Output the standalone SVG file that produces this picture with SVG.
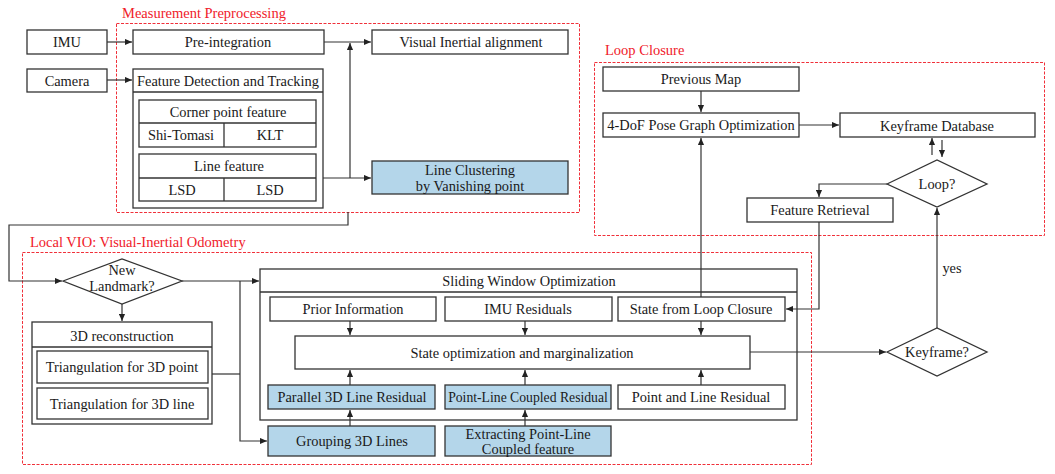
<svg xmlns="http://www.w3.org/2000/svg" width="1055" height="474" viewBox="0 0 1055 474">
<defs>
<marker id="ah" viewBox="0 0 8 8" refX="8" refY="4" markerWidth="7" markerHeight="7" markerUnits="userSpaceOnUse" orient="auto">
<path d="M0,0.5 L8,4 L0,7.5 Z" fill="#222"/>
</marker>
<style>
.b{fill:#fff;stroke:#333;stroke-width:1.3}
.bl{fill:#b4d6ea;stroke:#333;stroke-width:1.3}
.ln{fill:none;stroke:#333;stroke-width:1.3}
.t{font-family:"Liberation Serif","Times New Roman",serif;font-size:14.4px;fill:#1a1a1a;text-anchor:middle;dominant-baseline:central}
.rt{font-family:"Liberation Serif","Times New Roman",serif;font-size:14.5px;fill:#f0202a}
.rb{fill:none;stroke:#f0303a;stroke-width:1;stroke-dasharray:3 1.5}
.c{fill:none;stroke:#333;stroke-width:1.2}
</style>
</defs>
<rect width="1055" height="474" fill="#fff"/>

<!-- region frames -->
<g id="regions">
<rect class="rb" x="116.5" y="23.5" width="463" height="189"/>
<text class="rt" x="122" y="18">Measurement Preprocessing</text>
<rect class="rb" x="594.5" y="62.5" width="450" height="173"/>
<text class="rt" x="605" y="55">Loop Closure</text>
<rect class="rb" x="22.5" y="252.5" width="789" height="212"/>
<text class="rt" x="30" y="247">Local VIO: Visual-Inertial Odometry</text>
</g>

<!-- nodes -->
<g id="imu"><rect class="b" x="27" y="30" width="80" height="24"/><text class="t" x="67" y="42">IMU</text></g>
<g id="camera"><rect class="b" x="27" y="69" width="80" height="23"/><text class="t" x="67" y="80.5">Camera</text></g>
<g id="preint"><rect class="b" x="133" y="30" width="191" height="24"/><text class="t" x="228" y="42">Pre-integration</text></g>
<g id="fdt">
<rect class="b" x="133" y="69" width="190" height="139"/>
<line class="ln" x1="133" y1="92" x2="323" y2="92"/>
<text class="t" x="228" y="80.5">Feature Detection and Tracking</text>
<rect class="b" x="139" y="100" width="177" height="47"/>
<line class="ln" x1="139" y1="123" x2="316" y2="123"/>
<line class="ln" x1="224" y1="123" x2="224" y2="147"/>
<text class="t" x="228" y="111.5">Corner point feature</text>
<text class="t" x="181" y="135">Shi-Tomasi</text>
<text class="t" x="270" y="135">KLT</text>
<rect class="b" x="139" y="154" width="177" height="47"/>
<line class="ln" x1="139" y1="178" x2="316" y2="178"/>
<line class="ln" x1="224" y1="178" x2="224" y2="201"/>
<text class="t" x="229" y="166">Line feature</text>
<text class="t" x="182" y="190">LSD</text>
<text class="t" x="270" y="190">LSD</text>
</g>
<g id="via"><rect class="b" x="372" y="30" width="196" height="24"/><text class="t" x="471" y="42">Visual Inertial alignment</text></g>
<g id="lcvp"><rect class="bl" x="372" y="161" width="196" height="33"/><text class="t" x="470" y="170">Line Clustering</text><text class="t" x="470" y="185.5">by Vanishing point</text></g>

<g id="prevmap"><rect class="b" x="603" y="67" width="196" height="24"/><text class="t" x="701" y="78.5">Previous Map</text></g>
<g id="posegraph"><rect class="b" x="603" y="113" width="196" height="24"/><text class="t" x="701" y="124.5">4-DoF Pose Graph Optimization</text></g>
<g id="kfdb"><rect class="b" x="840" y="113" width="195" height="24"/><text class="t" x="937" y="125.5">Keyframe Database</text></g>
<g id="loop"><polygon class="b" points="887,184 937,160 987,184 937,207"/><text class="t" x="937" y="184">Loop?</text></g>
<g id="fretr"><rect class="b" x="747" y="198" width="146" height="24"/><text class="t" x="820" y="210">Feature Retrieval</text></g>

<g id="newlm"><polygon class="b" points="63,281 122,259 182,281 122,304"/><text class="t" x="122" y="270">New</text><text class="t" x="122" y="286">Landmark?</text></g>
<g id="recon3d">
<rect class="b" x="32" y="322" width="180" height="102"/>
<line class="ln" x1="32" y1="347" x2="212" y2="347"/>
<text class="t" x="122" y="336">3D reconstruction</text>
<rect class="b" x="37" y="351" width="171" height="32"/>
<text class="t" x="122" y="367">Triangulation for 3D point</text>
<rect class="b" x="37" y="388" width="171" height="31"/>
<text class="t" x="122" y="404">Triangulation for 3D line</text>
</g>

<g id="swo">
<rect class="b" x="260" y="269" width="537" height="151"/>
<line class="ln" x1="260" y1="292" x2="797" y2="292"/>
<text class="t" x="529" y="281">Sliding Window Optimization</text>
</g>
<g id="prior"><rect class="b" x="270" y="297" width="166" height="24"/><text class="t" x="353" y="309">Prior Information</text></g>
<g id="imures"><rect class="b" x="445" y="297" width="167" height="24"/><text class="t" x="528" y="309">IMU Residuals</text></g>
<g id="stateloop"><rect class="b" x="618" y="297" width="167" height="24"/><text class="t" x="701" y="309">State from Loop Closure</text></g>
<g id="stateopt"><rect class="b" x="295" y="336" width="455" height="33"/><text class="t" x="522" y="353">State optimization and marginalization</text></g>
<g id="par3d"><rect class="bl" x="268" y="385" width="167" height="24"/><text class="t" x="352" y="397">Parallel 3D Line Residual</text></g>
<g id="plcres"><rect class="bl" x="445" y="385" width="166" height="24"/><text class="t" x="528" y="397" style="font-size:13.7px">Point-Line Coupled Residual</text></g>
<g id="plres"><rect class="b" x="618" y="385" width="167" height="24"/><text class="t" x="701" y="397">Point and Line Residual</text></g>
<g id="group3d"><rect class="bl" x="268" y="426" width="167" height="30"/><text class="t" x="352" y="441">Grouping 3D Lines</text></g>
<g id="extract"><rect class="bl" x="445" y="426" width="166" height="30"/><text class="t" x="528" y="433.5">Extracting Point-Line</text><text class="t" x="528" y="448.5">Coupled feature</text></g>

<g id="keyframe"><polygon class="b" points="887,352 937,328 987,352 937,376"/><text class="t" x="937" y="352">Keyframe?</text></g>

<!-- connectors -->
<g id="connectors">
<path class="c" d="M107,42 H132" marker-end="url(#ah)"/>
<path class="c" d="M107,80 H132" marker-end="url(#ah)"/>
<path class="c" d="M324,42 H371" marker-end="url(#ah)"/>
<path class="c" d="M323,178 H371" marker-end="url(#ah)"/>
<path class="c" d="M350,178 V43" marker-end="url(#ah)"/>
<path class="c" d="M348,212 V225 H9 V281 H62" marker-end="url(#ah)"/>
<path class="c" d="M182,281 H259" marker-end="url(#ah)"/>
<path class="c" d="M122,304 V321" marker-end="url(#ah)"/>
<path class="c" d="M212,374 H240"/>
<path class="c" d="M240,281 V441 H267" marker-end="url(#ah)"/>
<path class="c" d="M350,321 V335" marker-end="url(#ah)"/>
<path class="c" d="M525,321 V335" marker-end="url(#ah)"/>
<path class="c" d="M701,321 V335" marker-end="url(#ah)"/>
<path class="c" d="M350,385 V370" marker-end="url(#ah)"/>
<path class="c" d="M525,385 V370" marker-end="url(#ah)"/>
<path class="c" d="M701,385 V370" marker-end="url(#ah)"/>
<path class="c" d="M350,426 V410" marker-end="url(#ah)"/>
<path class="c" d="M525,426 V410" marker-end="url(#ah)"/>
<path class="c" d="M750,352 H886" marker-end="url(#ah)"/>
<path class="c" d="M937,328 V208" marker-end="url(#ah)"/>
<text class="t" x="952" y="268">yes</text>
<path class="c" d="M887,184 H819 V197" marker-end="url(#ah)"/>
<path class="c" d="M819,222 V309 H786" marker-end="url(#ah)"/>
<path class="c" d="M701,297 V138" marker-end="url(#ah)"/>
<path class="c" d="M701,91 V112" marker-end="url(#ah)"/>
<path class="c" d="M799,125 H839" marker-end="url(#ah)"/>
<path class="c" d="M932,155 V138" marker-end="url(#ah)"/>
<path class="c" d="M942,140 V157" marker-end="url(#ah)"/>
</g>
</svg>
